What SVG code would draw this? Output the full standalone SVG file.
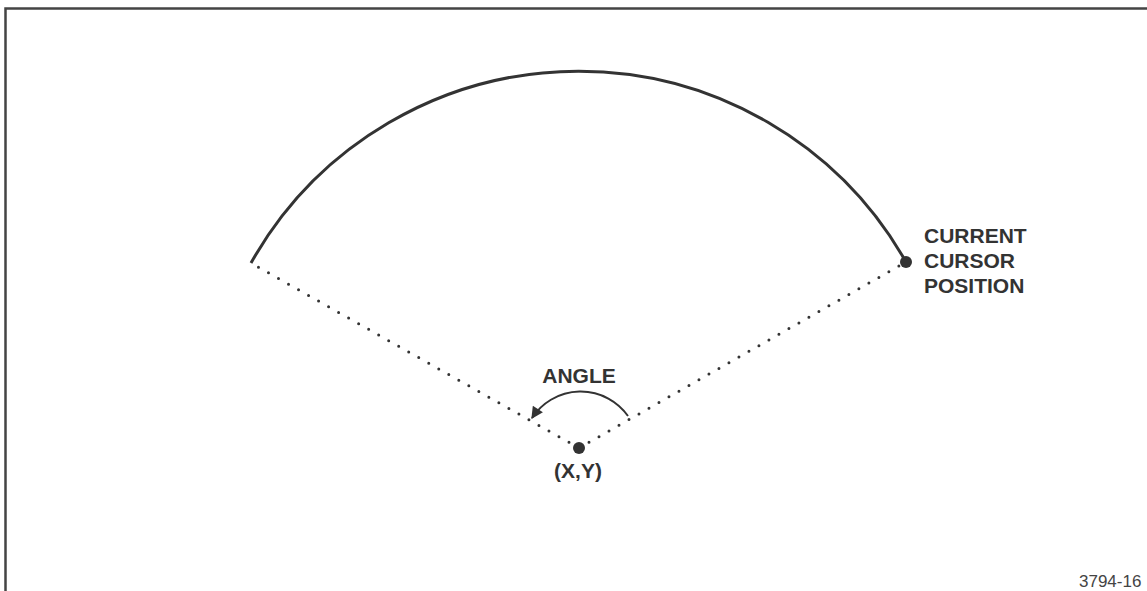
<svg xmlns="http://www.w3.org/2000/svg" width="1147" height="591" viewBox="0 0 1147 591">
<style>
.lbl{font-family:"Liberation Sans",Arial,sans-serif;font-weight:bold;font-size:21px;fill:#333}
.dot{stroke:#333;stroke-width:3;stroke-linecap:round;stroke-dasharray:0 11.5;fill:none}
</style>
<defs>
<marker id="ah" viewBox="0 0 10 10" refX="9" refY="5" markerWidth="7" markerHeight="6" orient="auto" markerUnits="strokeWidth">
<path d="M0,0 L10,5 L0,10 z" fill="#333"/>
</marker>
</defs>
<rect width="1147" height="591" fill="#fff"/>
<path d="M5.5,591 V8.5 H1147" fill="none" stroke="#444" stroke-width="2.5"/>
<g id="connectors">
<path class="dot" d="M579,448 L251,263"/>
<path class="dot" d="M579,448 L906,262"/>
<path d="M251,263 A376,376 0 0 1 906,262" fill="none" stroke="#333" stroke-width="3"/>
<path d="M628,416 A58,58 0 0 0 532,418" fill="none" stroke="#333" stroke-width="2" marker-end="url(#ah)"/>
</g>
<g id="center">
<circle cx="579" cy="448" r="6" fill="#333"/>
<text class="lbl" x="578" y="478" text-anchor="middle">(X,Y)</text>
</g>
<g id="cursor">
<circle cx="906" cy="262" r="6" fill="#333"/>
<text class="lbl" x="924" y="243">CURRENT</text>
<text class="lbl" x="924" y="268">CURSOR</text>
<text class="lbl" x="924" y="293">POSITION</text>
</g>
<g id="angle">
<text class="lbl" x="579" y="383" text-anchor="middle">ANGLE</text>
</g>
<text x="1079" y="587" font-family="'Liberation Sans',Arial,sans-serif" font-size="17" fill="#444">3794-16</text>
</svg>
